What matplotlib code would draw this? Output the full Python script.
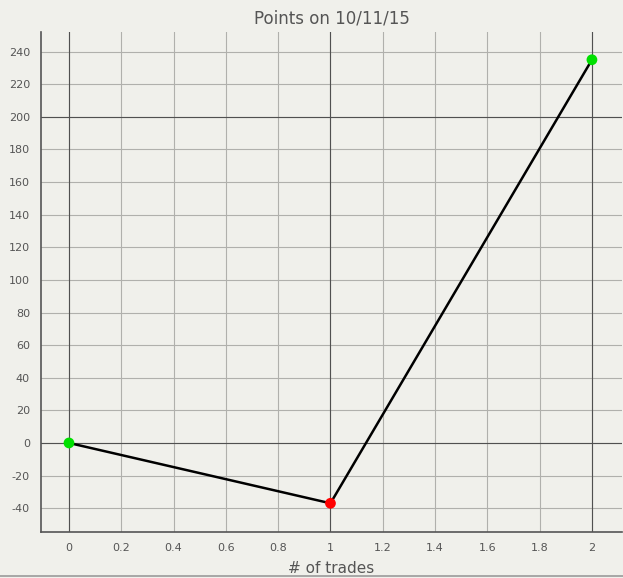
import matplotlib
matplotlib.use("Agg")
import matplotlib.pyplot as plt
from matplotlib.lines import Line2D
import numpy as np

plt.rcParams["axes.unicode_minus"] = False

# data
trades = [0, 1, 2]
points = [0, -37, 235]
point_colors = ["#00e000", "#ff0000", "#00e000"]

x_ticks = np.round(np.arange(0, 2.01, 0.2), 1)
x_tick_labels = ["0", "0.2", "0.4", "0.6", "0.8", "1", "1.2", "1.4", "1.6", "1.8", "2"]
y_ticks = np.arange(-40, 241, 20)

bg = "#f0f0eb"
text_col = "#555555"

fig = plt.figure(figsize=(6.23, 5.78), dpi=100, facecolor=bg)
ax = fig.add_axes([0.0658, 0.0796, 0.9326, 0.865], facecolor=bg)

ax.plot(trades, points, color="black", lw=1.8, zorder=3)
ax.scatter(trades, points, c=point_colors, s=60, zorder=4, edgecolors="none")

ax.set_xlim(-0.107, 2.115)
ax.set_ylim(-54.6, 252)

# light grid at each tick, dark grid at 1 / 200
ax.set_axisbelow(True)
ax.set_xticks(x_ticks)
ax.set_xticklabels(x_tick_labels)
ax.set_yticks(y_ticks)
ax.grid(True, color="#b0b0ac", lw=0.8)
for xv in [0, 1, 2]:
    ax.axvline(xv, color="#505050", lw=0.8, zorder=2)
for yv in [0, 200]:
    ax.axhline(yv, color="#505050", lw=0.8, zorder=2)

ax.tick_params(length=0, labelsize=8, colors=text_col, pad=8)
for s in ["top", "right"]:
    ax.spines[s].set_visible(False)
for s in ["left", "bottom"]:
    ax.spines[s].set_color("#555555")
    ax.spines[s].set_linewidth(1.2)

ax.set_title("Points on 10/11/15", fontsize=12, color=text_col, pad=6)
ax.set_xlabel("# of trades", fontsize=11, color=text_col, labelpad=6)

# window border at bottom
fig.add_artist(Line2D([0, 1], [0.0035, 0.0035], color="#9a9a9a", lw=1.2))

fig.savefig("out.png", dpi=100, facecolor=bg)
